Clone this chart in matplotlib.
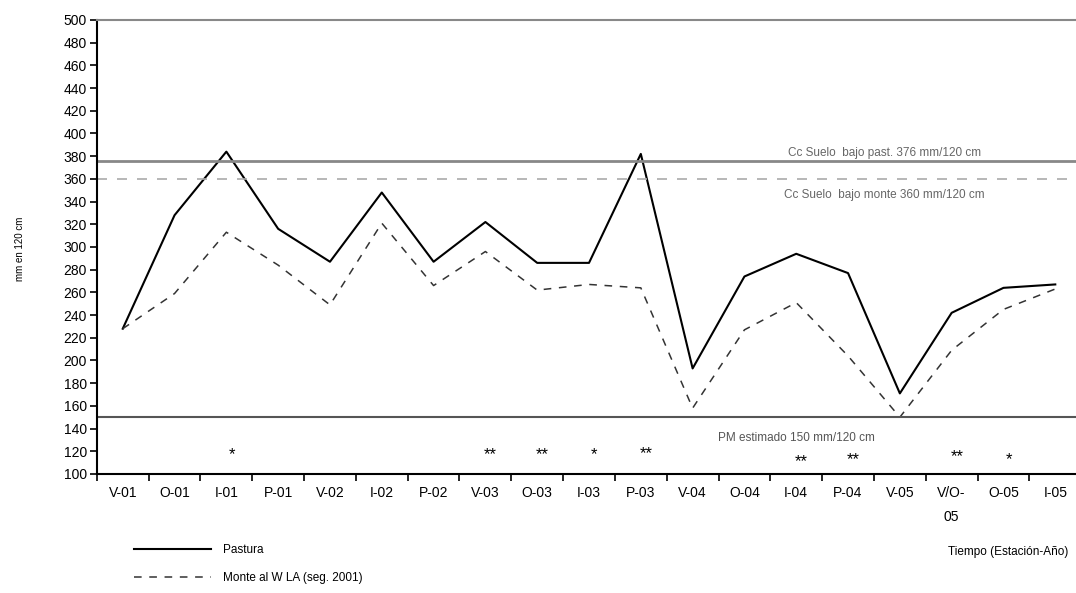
import numpy as np
import matplotlib
matplotlib.use("Agg")
import matplotlib.pyplot as plt

plt.rcParams['font.family'] = ['Liberation Sans', 'DejaVu Sans']

# Datos
estaciones = ["V-01", "O-01", "I-01", "P-01", "V-02", "I-02", "P-02", "V-03", "O-03", "I-03",
              "P-03", "V-04", "O-04", "I-04", "P-04", "V-05", "V/O-\n05", "O-05", "I-05"]
pastura = [228, 328, 384, 316, 287, 348, 287, 322, 286, 286,
           382, 193, 274, 294, 277, 171, 242, 264, 267]
monte = [228, 259, 313, 284, 249, 321, 266, 296, 262, 267,
         264, 158, 227, 251, 204, 150, 209, 245, 263]

# diferencias significativas (asteriscos) y su altura
signif = ["", "", "*", "", "", "", "", "**", "**", "*",
          "**", "", "", "**", "**", "", "**", "*", ""]
signif_y = [0, 0, 117, 0, 0, 0, 0, 117, 117, 117,
            118, 0, 0, 111, 113, 0, 115, 113, 0]

cc_pastura = 376
cc_monte = 360
pm = 150

fig = plt.figure(figsize=(10.76, 5.93), dpi=100)
ax = fig.add_axes([0.090, 0.2007, 0.91, 0.7656])

x = np.arange(len(estaciones))
ax.plot(x, pastura, color="black", lw=1.5, label="Pastura")
ax.plot(x, monte, color="#333333", lw=1.1, dashes=(5, 5), label="Monte al W LA (seg. 2001)")

# lineas de referencia
ax.axhline(cc_pastura, color="#888888", lw=2)
ax.axhline(cc_monte, color="#aaaaaa", lw=1.2, dashes=(6, 6))
ax.axhline(pm, color="#555555", lw=1.5)

ax.text(14.7, cc_pastura + 7, "Cc Suelo  bajo past. 376 mm/120 cm", color="#666666",
        fontsize=8.5, ha="center", va="center")
ax.text(14.7, cc_monte - 14, "Cc Suelo  bajo monte 360 mm/120 cm", color="#666666",
        fontsize=8.5, ha="center", va="center")
ax.text(13.0, 132, "PM estimado 150 mm/120 cm", color="#555555",
        fontsize=8.5, ha="center", va="center")

for i, (s, sy) in enumerate(zip(signif, signif_y)):
    if s:
        ax.text(i + 0.1, sy, s, fontsize=12, ha="center", va="center")

ax.set_xlim(-0.5, 18.4)
ax.set_ylim(100, 500)
ax.set_yticks(np.arange(100, 501, 20))
ax.tick_params(axis="y", labelsize=10, length=5, width=1.2, direction="out", pad=2)

ax.set_xticks(np.arange(-0.5, 18.5, 1))
ax.set_xticklabels([])
ax.set_xticks(x, minor=True)
ax.set_xticklabels(estaciones, minor=True, fontsize=10)
for lab in ax.get_xticklabels(minor=True):
    lab.set_linespacing(1.9)
ax.tick_params(axis="x", which="major", length=5, width=1.2, direction="out")
ax.tick_params(axis="x", which="minor", length=0, pad=9)

ax.spines["left"].set_linewidth(1.5)
ax.spines["bottom"].set_linewidth(1.5)
ax.spines["top"].set_color("#888888")
ax.spines["top"].set_linewidth(1.5)
ax.spines["right"].set_visible(False)

fig.text(0.019, 0.58, "mm en 120 cm", rotation=90, fontsize=7, ha="center", va="center")
fig.text(0.993, 0.069, "Tiempo (Estación-Año)", fontsize=8.5, ha="right", va="center")

# leyenda debajo del grafico
fig.legend(loc="upper left", bbox_to_anchor=(0.115, 0.1), frameon=False, fontsize=8.5,
           handlelength=6.5, labelspacing=1.3, handletextpad=1.0)

fig.savefig("out.png", dpi=100)
